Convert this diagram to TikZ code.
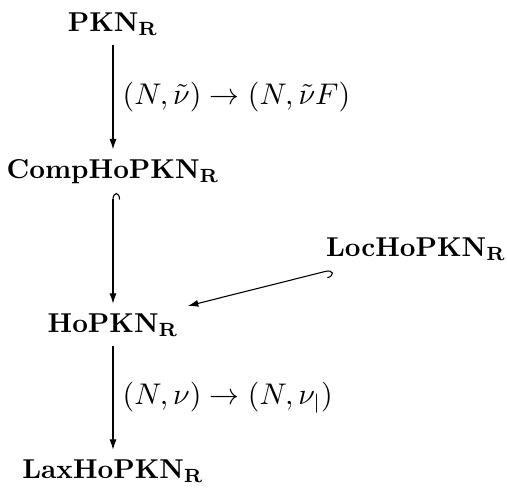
\documentclass[tikz,border=0pt]{standalone}
\usepackage{amsmath,amssymb}
\usetikzlibrary{arrows.meta}
\tikzset{
  catnode/.style  = {font=\bfseries, inner sep=3.33pt, anchor=base},
  mapto/.style    = {-{Latex[length=3.8pt,width=2.6pt]}},
  incl/.style     = {{Hooks[right,length=2.4pt,width=5.2pt]}-{Latex[length=3.8pt,width=2.6pt]}},
  maplabel/.style = {right, midway, font=\fontsize{10.6}{13}\selectfont}
}
\begin{document}
\begin{tikzpicture}[x=0.3663pt, y=-0.3663pt]
  \useasboundingbox (0,0) rectangle (507,496);
  \node [catnode] (pkn)  at (113,31)  {PKN$_{\mathbf{R}}$};
  \node [catnode] (comp) at (113,178) {CompHoPKN$_{\mathbf{R}}$};
  \node [catnode] (loc)  at (416,256) {LocHoPKN$_{\mathbf{R}}$};
  \node [catnode] (ho)   at (113,332) {HoPKN$_{\mathbf{R}}$};
  \node [catnode] (lax)  at (113,478) {LaxHoPKN$_{\mathbf{R}}$};

  \draw [mapto] (pkn) -- node [maplabel] {$(N,\tilde{\nu})\to(N,\tilde{\nu}F)$} (comp);
  \draw [incl] (comp) -- (ho);
  \draw [incl] (loc) -- (ho);
  \draw [mapto] (ho) -- node [maplabel] {$(N,\nu)\to(N,\nu_{|})$} (lax);
\end{tikzpicture}
\end{document}
